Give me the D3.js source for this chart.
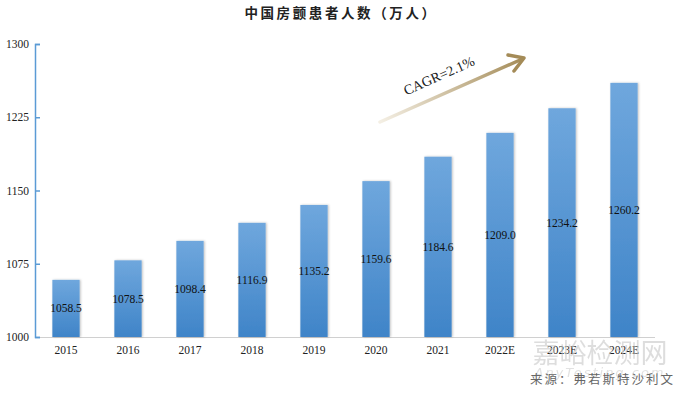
<!DOCTYPE html>
<html>
<head>
<meta charset="utf-8">
<script src="https://cdn.jsdelivr.net/npm/d3@7"></script>
<style>
  body { margin: 0; background: white; }
  svg { display: block; }
  .tick text { font-family: "Liberation Serif", "Times New Roman", serif; }
</style>
</head>
<body>
<svg id="chart"></svg>
<script>
const years = ["2015", "2016", "2017", "2018", "2019", "2020", "2021", "2022E", "2023E", "2024E"]
const patients = [1058.5, 1078.5, 1098.4, 1116.9, 1135.2, 1159.6, 1184.6, 1209.0, 1234.2, 1260.2]
const yTicks = [1000, 1075, 1150, 1225, 1300]

const width = 680, height = 393
const svg = d3.select("#chart").attr("width", width).attr("height", height)

const x = d3.scaleBand().domain(years).range([35, 655]).paddingInner(0.56).paddingOuter(0.28)
const y = d3.scaleLinear().domain([1000, 1300]).range([337, 44])

let defs = svg.append("defs")
let grad = defs.append("linearGradient").attr("id", "barGrad")
  .attr("x1", 0).attr("y1", 0).attr("x2", 0).attr("y2", 1)
grad.append("stop").attr("offset", "0%").attr("stop-color", "#6fa7dd")
grad.append("stop").attr("offset", "100%").attr("stop-color", "#3f84c8")

let arrowGrad = defs.append("linearGradient").attr("id", "arrowGrad")
  .attr("gradientUnits", "userSpaceOnUse")
  .attr("x1", 380).attr("y1", 122).attr("x2", 525).attr("y2", 58)
arrowGrad.append("stop").attr("offset", "0%").attr("stop-color", "#f4efe4")
arrowGrad.append("stop").attr("offset", "100%").attr("stop-color", "#a48b57")

let shadow = defs.append("filter").attr("id", "shadow").attr("x", "-20%").attr("width", "140%")
shadow.append("feDropShadow").attr("dx", 1).attr("dy", 0).attr("stdDeviation", 1)
  .attr("flood-color", "#000").attr("flood-opacity", 0.25)

// title
svg.append("text")
  .attr("x", 341).attr("y", 18)
  .attr("text-anchor", "middle")
  .style("font-family", "'Noto Sans CJK SC', sans-serif")
  .style("font-size", "13.5px").style("font-weight", "bold")
  .attr("letter-spacing", "2.6px")
  .attr("fill", "#222")
  .text("中国房颤患者人数（万人）")

// x baseline
svg.append("line")
  .attr("x1", 35).attr("x2", 655).attr("y1", 337.5).attr("y2", 337.5)
  .attr("stroke", "#d0d0d0").attr("stroke-width", 1)

// bars
svg.selectAll("rect.bar").data(patients).enter().append("rect")
  .attr("class", "bar")
  .attr("x", (d, i) => x(years[i]))
  .attr("y", d => y(d))
  .attr("width", x.bandwidth())
  .attr("height", d => y(1000) - y(d))
  .attr("fill", "url(#barGrad)")
  .attr("filter", "url(#shadow)")

svg.selectAll("text.val").data(patients).enter().append("text")
  .attr("class", "val")
  .attr("x", (d, i) => x(years[i]) + x.bandwidth() / 2)
  .attr("y", d => (y(d) + y(1000)) / 2 + 4)
  .attr("text-anchor", "middle")
  .style("font-family", "'Liberation Serif', serif")
  .style("font-size", "11.5px")
  .attr("fill", "#111")
  .text(d => d.toFixed(1))

// y axis
let yAxis = svg.append("g").attr("transform", "translate(35,0)")
  .call(d3.axisRight(y).tickValues(yTicks).tickSize(5).tickFormat(d3.format("d")))
yAxis.select(".domain").attr("stroke", "#5b9bd5").attr("stroke-width", 1.5)
yAxis.selectAll(".tick line").attr("stroke", "#5b9bd5").attr("stroke-width", 1.5)
yAxis.selectAll(".tick text")
  .attr("x", -6).attr("text-anchor", "end")
  .style("font-size", "11.5px").attr("fill", "#222")

// x labels
let xAxis = svg.append("g").attr("transform", "translate(0,337)")
  .call(d3.axisBottom(x).tickSize(0).tickPadding(9))
xAxis.select(".domain").remove()
xAxis.selectAll(".tick text").style("font-size", "11.5px").attr("fill", "#222")

// CAGR arrow
svg.append("line")
  .attr("x1", 380).attr("y1", 122).attr("x2", 520).attr("y2", 60)
  .attr("stroke", "url(#arrowGrad)").attr("stroke-width", 3.5).attr("stroke-linecap", "round")
svg.append("path")
  .attr("d", "M508,55 L524,58 L514,71")
  .attr("fill", "none").attr("stroke", "#a48b57").attr("stroke-width", 3.5)
  .attr("stroke-linecap", "round").attr("stroke-linejoin", "round")
svg.append("text")
  .attr("transform", "translate(441,80) rotate(-24)")
  .attr("text-anchor", "middle")
  .style("font-family", "'Liberation Serif', serif")
  .style("font-size", "14px")
  .attr("fill", "#222")
  .text("CAGR=2.1%")

// watermark (faint, sits behind the last labels as in the source image)
svg.append("text")
  .attr("x", 600).attr("y", 363).attr("text-anchor", "middle")
  .style("font-family", "'Noto Sans CJK SC', sans-serif")
  .style("font-size", "27px").attr("fill", "#c8c8c8").attr("opacity", 0.6)
  .text("嘉峪检测网")
svg.append("text")
  .attr("x", 600).attr("y", 377).attr("text-anchor", "middle")
  .style("font-family", "'DejaVu Sans', sans-serif").style("font-style", "italic")
  .style("font-size", "13px").attr("fill", "#cfcfcf").attr("opacity", 0.6)
  .attr("letter-spacing", "2px")
  .text("AnyTesting.com")

// source
svg.append("text")
  .attr("x", 675).attr("y", 384).attr("text-anchor", "end")
  .style("font-family", "'Noto Sans CJK SC', sans-serif")
  .style("font-size", "12.5px").attr("fill", "#666")
  .attr("letter-spacing", "2px")
  .text("来源：弗若斯特沙利文")
</script>
</body>
</html>
